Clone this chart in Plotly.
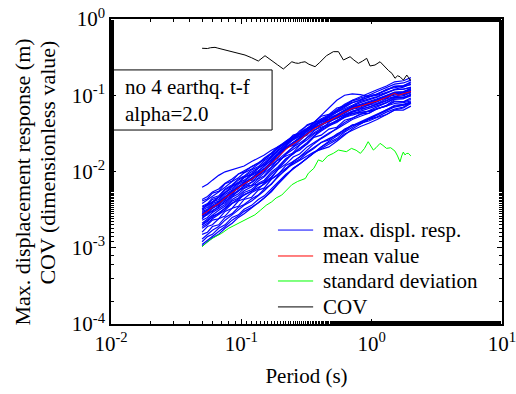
import plotly.graph_objects as go

# Period grid (s) for the individual response spectra
periods = [0.05, 0.055, 0.06, 0.067, 0.075, 0.085, 0.095, 0.105, 0.12, 0.135,
           0.15, 0.17, 0.19, 0.22, 0.25, 0.28, 0.32, 0.36, 0.41, 0.47,
           0.54, 0.62, 0.71, 0.82, 0.95, 1.1, 1.3, 1.5, 1.75, 2.0]

# Maximum displacement responses of the individual records, in mm
resp_mm = [
    [6.2, 6.8, 7.7, 8.9, 9.9, 10.5, 11.2, 11.8, 13.5, 14.9, 16.5, 19.0, 21, 24, 28, 31, 36, 40, 47, 52, 60, 66, 74, 83, 90, 96, 108, 120, 128, 140],
    [1.1, 1.25, 1.4, 1.6, 1.9, 2.3, 2.6, 3.0, 3.4, 3.9, 4.5, 5.4, 6.8, 8.9, 11, 12.5, 15, 18, 21, 24, 27, 33, 38, 44, 49, 55, 62, 70, 74, 80],
    [2.8, 3.1, 3.3, 4.0, 4.4, 5.6, 6.0, 7.3, 7.7, 9.6, 10.2, 13.4, 15.0, 20.5, 22, 27, 30, 38, 40, 48, 50, 63, 65, 75, 74, 88, 90, 108, 100, 116],
    [3.5, 3.8, 4.5, 4.8, 5.9, 6.7, 8.0, 8.7, 10.5, 11.6, 13.8, 16.0, 20.5, 24, 30, 32, 41, 44, 53, 56, 68, 72, 86, 88, 100, 102, 120, 125, 132, 138],
    [2.0, 2.3, 2.5, 2.9, 3.3, 4.1, 4.5, 5.3, 5.8, 7.0, 7.7, 9.8, 11.4, 14.8, 17, 20, 23, 28, 30, 36, 38, 47, 50, 57, 58, 67, 72, 84, 82, 92],
    [1.5, 1.6, 1.9, 2.0, 2.5, 2.8, 3.4, 3.7, 4.4, 4.9, 5.9, 6.8, 8.6, 10.5, 13, 14.5, 17.5, 20, 24, 26, 31, 35, 41, 42, 48, 52, 60, 66, 70, 80],
    [4.1, 4.4, 5.2, 5.5, 6.9, 7.5, 9.3, 9.8, 11.6, 12.8, 15, 17.5, 21, 25, 29, 31, 37, 40, 45, 48, 54, 58, 66, 68, 75, 78, 90, 96, 104, 108],
    [2.4, 2.8, 3.0, 3.5, 3.9, 4.9, 5.5, 6.5, 7.3, 8.8, 10.0, 12.6, 15.5, 20, 24, 28, 34, 40, 47, 54, 62, 74, 84, 92, 100, 112, 125, 140, 145, 158],
    [3.1, 3.4, 4.0, 4.3, 5.3, 6.0, 7.1, 7.7, 9.1, 10.2, 11.8, 14.2, 17, 21, 24, 27, 31, 35, 38, 42, 45, 51, 55, 59, 61, 67, 73, 82, 82, 88],
    [1.2, 1.4, 1.5, 1.8, 2.0, 2.5, 2.7, 3.2, 3.6, 4.3, 4.8, 6.0, 7.2, 9.2, 10.8, 12.5, 15, 17.5, 20, 23, 26, 31, 35, 39, 43, 48, 56, 64, 68, 78],
    [3.2, 3.7, 3.9, 4.6, 5.2, 6.4, 7.0, 8.4, 9.1, 11.0, 12.3, 15.0, 18.5, 22, 27, 30, 36, 44, 54, 68, 86, 100, 104, 102, 96, 100, 108, 118, 120, 126],
    [1.8, 2.0, 2.3, 2.4, 3.0, 3.3, 4.1, 4.4, 5.3, 5.9, 7.0, 8.2, 10.5, 12.5, 15.5, 17, 21, 24, 28, 32, 36, 42, 48, 53, 58, 66, 74, 88, 90, 104],
    [2.6, 3.0, 3.5, 3.7, 4.6, 5.1, 6.3, 6.6, 8.2, 8.8, 10.8, 12.2, 14, 16, 17.5, 19, 23, 29, 36, 44, 52, 58, 68, 70, 80, 82, 96, 100, 108, 110],
    [2.3, 2.5, 2.9, 3.3, 3.7, 4.6, 5.1, 6.0, 6.6, 8.0, 8.8, 11.2, 13, 16.8, 19.5, 22.5, 26, 31, 35, 40, 44, 52, 57, 62, 66, 73, 80, 90, 90, 98],
    [3.0, 3.2, 3.8, 4.1, 5.0, 5.7, 6.8, 7.4, 8.9, 9.9, 11.9, 14.0, 17.5, 21.5, 26, 29, 35, 40, 47, 52, 60, 70, 80, 86, 94, 104, 118, 132, 134, 146],
    [1.6, 1.9, 2.0, 2.4, 2.6, 3.3, 3.5, 4.3, 4.6, 5.7, 6.1, 7.9, 9.0, 12, 13.5, 15.5, 18, 21, 24, 27, 30, 36, 40, 43, 46, 51, 56, 64, 64, 72],
    [3.8, 4.3, 4.7, 5.4, 6.2, 7.4, 8.3, 9.6, 10.8, 12.6, 14.2, 17.0, 20, 24, 28, 31, 36, 40, 44, 48, 54, 62, 70, 74, 80, 88, 98, 108, 110, 120],
    [2.6, 2.8, 3.3, 3.6, 4.3, 5.0, 5.7, 6.4, 6.6, 6.8, 7.2, 8.5, 10.5, 14, 18, 22, 28, 34, 40, 46, 51, 60, 66, 74, 76, 86, 92, 104, 102, 114],
    [1.3, 1.5, 1.7, 1.9, 2.3, 2.7, 3.1, 3.6, 4.1, 4.8, 5.6, 6.9, 8.4, 11, 13.5, 15.5, 19, 23, 27, 31, 37, 44, 50, 56, 62, 70, 80, 92, 94, 102],
    [3.4, 3.7, 4.3, 4.6, 5.7, 6.5, 7.7, 8.5, 9.9, 11.2, 13, 15.5, 19, 23, 27, 29, 34, 38, 42, 45, 50, 56, 62, 66, 70, 76, 84, 94, 94, 100],
    [2.1, 2.4, 2.7, 3.1, 3.5, 4.3, 4.8, 5.6, 6.3, 7.5, 8.5, 10.5, 12.8, 17, 21, 25, 31, 38, 46, 54, 64, 76, 86, 96, 106, 118, 132, 150, 155, 170],
    [2.9, 3.1, 3.6, 4.0, 4.7, 5.6, 6.4, 7.2, 8.3, 9.7, 11, 13.5, 16.5, 20.5, 24, 27, 32, 37, 41, 45, 49, 55, 58, 60, 62, 66, 72, 78, 80, 84],
    [1.9, 2.1, 2.4, 2.7, 3.1, 3.8, 4.2, 5.0, 5.5, 6.7, 7.4, 9.2, 11, 14.5, 17, 20, 24, 29, 34, 39, 46, 54, 61, 67, 74, 82, 94, 106, 110, 122],
    [4.3, 4.7, 5.4, 5.9, 7.0, 8.0, 9.3, 10.2, 11.5, 13, 14.5, 17, 20, 25, 29, 32, 37, 42, 46, 51, 56, 64, 71, 76, 82, 90, 100, 110, 112, 122],
    [1.05, 1.2, 1.35, 1.5, 1.8, 2.1, 2.5, 2.8, 3.3, 3.9, 4.5, 5.6, 6.9, 9.0, 11, 12.5, 15, 18, 21, 25, 29, 34, 40, 45, 50, 56, 64, 72, 74, 80],
    [2.7, 2.9, 3.5, 3.7, 4.6, 5.2, 6.3, 6.8, 8.1, 9.0, 10.8, 13.0, 16.5, 22, 28, 34, 40, 44, 46, 49, 54, 62, 68, 74, 80, 86, 98, 106, 108, 116],
    [2.5, 2.7, 3.1, 3.4, 4.1, 4.7, 5.6, 6.1, 7.2, 8.2, 9.6, 11.4, 14.2, 17.5, 21, 23.5, 28, 32, 37, 41, 47, 53, 60, 64, 70, 76, 86, 96, 98, 108],
    [3.2, 3.6, 4.0, 4.6, 5.3, 6.4, 7.2, 8.3, 9.4, 11.1, 12.4, 15.4, 18.4, 23.5, 27, 31, 37, 43, 49, 55, 62, 72, 80, 86, 94, 104, 116, 130, 132, 150],
    [2.0, 2.2, 2.6, 2.8, 3.3, 3.9, 4.4, 4.9, 5.5, 6.2, 6.8, 8.0, 9.2, 11, 12.5, 14, 16, 18, 19.5, 21, 25, 30, 36, 42, 48, 56, 64, 74, 76, 82],
    [2.7, 3.1, 3.3, 3.9, 4.4, 5.4, 6.0, 7.1, 7.8, 9.5, 10.4, 13.2, 15.4, 20, 23, 27, 31, 37, 42, 48, 55, 64, 72, 80, 86, 94, 106, 118, 120, 128],
]

# Mean value (m)
mean_T = [0.05, 0.055, 0.06, 0.067, 0.075, 0.085, 0.095, 0.105, 0.12, 0.135,
          0.15, 0.17, 0.19, 0.22, 0.25, 0.28, 0.32, 0.36, 0.41, 0.47,
          0.54, 0.62, 0.71, 0.82, 0.95, 1.1, 1.3, 1.5, 1.6, 1.75, 1.9, 2.0]
mean_val = [0.0027, 0.0030, 0.0034, 0.0038, 0.0045, 0.0053, 0.0061, 0.0069, 0.0079, 0.0092,
            0.0105, 0.0128, 0.0155, 0.0195, 0.023, 0.026, 0.031, 0.036, 0.041, 0.046,
            0.052, 0.060, 0.067, 0.072, 0.077, 0.084, 0.094, 0.106, 0.100, 0.104, 0.109, 0.112]

# Standard deviation (m)
std_T = [0.05, 0.055, 0.06, 0.0707, 0.08, 0.095, 0.11, 0.127, 0.14, 0.155,
         0.171, 0.185, 0.204, 0.22, 0.244, 0.27, 0.31, 0.327, 0.36, 0.39,
         0.42, 0.46, 0.508, 0.556, 0.60, 0.64, 0.70, 0.76, 0.82, 0.88,
         0.94, 0.98, 1.03, 1.08, 1.16, 1.22, 1.3, 1.4, 1.51, 1.58,
         1.65, 1.70, 1.75, 1.80, 1.85, 1.91, 1.97, 2.0]
std_val = [0.00103, 0.0012, 0.00133, 0.00155, 0.0018, 0.0021, 0.0024, 0.0027, 0.0031, 0.0036,
           0.0040, 0.0045, 0.0049, 0.0056, 0.0067, 0.0074, 0.0081, 0.0095, 0.011, 0.0142,
           0.0135, 0.016, 0.0173, 0.0191, 0.0185, 0.0182, 0.0201, 0.019, 0.0173, 0.020,
           0.0246, 0.022, 0.0191, 0.0205, 0.0234, 0.022, 0.0201, 0.0205, 0.0185, 0.016,
           0.0134, 0.016, 0.018, 0.0165, 0.0172, 0.0173, 0.0165, 0.016]

# Coefficient of variation (dimensionless)
cov_T = [0.05, 0.055, 0.058, 0.0628, 0.066, 0.07, 0.0794, 0.09, 0.1067, 0.12,
         0.135, 0.152, 0.17, 0.19, 0.21, 0.23, 0.244, 0.26, 0.274, 0.29,
         0.308, 0.33, 0.368, 0.40, 0.45, 0.508, 0.556, 0.607, 0.64, 0.683,
         0.73, 0.791, 0.85, 0.916, 0.972, 1.06, 1.16, 1.22, 1.27, 1.35,
         1.43, 1.51, 1.58, 1.65, 1.75, 1.86, 1.92, 1.97, 2.0]
cov_val = [0.413, 0.41, 0.42, 0.425, 0.415, 0.405, 0.384, 0.36, 0.337, 0.31,
           0.281, 0.33, 0.29, 0.25, 0.221, 0.25, 0.275, 0.265, 0.262, 0.27,
           0.275, 0.255, 0.237, 0.27, 0.33, 0.373, 0.373, 0.29, 0.30, 0.32,
           0.29, 0.262, 0.28, 0.305, 0.242, 0.249, 0.275, 0.25, 0.237, 0.21,
           0.194, 0.167, 0.18, 0.175, 0.158, 0.184, 0.17, 0.158, 0.16]

x_ticks = [0.01, 0.1, 1, 10]
x_labels = ["10<sup>-2</sup>", "10<sup>-1</sup>", "10<sup>0</sup>", "10<sup>1</sup>"]
y_ticks = [1e-4, 1e-3, 1e-2, 1e-1, 1]
y_labels = ["10<sup>-4</sup>", "10<sup>-3</sup>", "10<sup>-2</sup>", "10<sup>-1</sup>", "10<sup>0</sup>"]

# Legend entries: label and line colour
legend_names = ["max. displ. resp.", "mean value", "standard deviation", "COV"]
legend_colors = ["rgb(0,0,255)", "rgb(255,0,0)", "rgb(0,255,0)", "black"]

# Two-line y-axis title
y_title_lines = ["Max. displacement response (m)", "COV (dimensionless value)"]

FONT = "Times New Roman, Liberation Serif, serif"

fig = go.Figure()

for row in resp_mm:
    fig.add_trace(go.Scatter(
        x=periods, y=[v / 1000 for v in row], mode="lines",
        line=dict(color=legend_colors[0], width=1.2), name=legend_names[0], showlegend=False,
    ))

fig.add_trace(go.Scatter(x=mean_T, y=mean_val, mode="lines", showlegend=False,
                         line=dict(color=legend_colors[1], width=1), name=legend_names[1]))
fig.add_trace(go.Scatter(x=std_T, y=std_val, mode="lines", showlegend=False,
                         line=dict(color=legend_colors[2], width=1), name=legend_names[2]))
fig.add_trace(go.Scatter(x=cov_T, y=cov_val, mode="lines", showlegend=False,
                         line=dict(color=legend_colors[3], width=1), name=legend_names[3]))

axis_common = dict(
    type="log", showline=True, linecolor="black", linewidth=1.5, mirror="allticks",
    ticks="inside", ticklen=5, tickcolor="black", showgrid=False, zeroline=False,
    minor=dict(ticks="inside", ticklen=3, tickcolor="black", showgrid=False),
    tickfont=dict(family=FONT, size=21, color="black"), automargin=False,
    ticklabeloverflow="allow",
)

fig.update_xaxes(range=[-2, 1], tickvals=x_ticks, ticktext=x_labels,
                 title=dict(text="Period (s)", font=dict(family=FONT, size=21, color="black"), standoff=13),
                 **axis_common)
fig.update_yaxes(range=[-4, 0], tickvals=y_ticks, ticktext=y_labels, **axis_common)

# Y-axis title, one rotated line each
for text, xx, yy in zip(y_title_lines, [-0.226, -0.162], [0.466, 0.528]):
    fig.add_annotation(xref="paper", yref="paper", x=xx, y=yy, xanchor="center", yanchor="middle",
                       text=text, textangle=-90, showarrow=False,
                       font=dict(family=FONT, size=22, color="black"))

# Annotation box with record info
fig.add_shape(type="rect", xref="paper", yref="paper", x0=0, x1=0.412, y0=0.636, y1=0.833,
              line=dict(color="black", width=1), fillcolor="rgba(0,0,0,0)")
fig.add_annotation(xref="paper", yref="paper", x=0.03, y=0.734, xanchor="left", yanchor="middle",
                   text="no 4 earthq. t-f<br>alpha=2.0", showarrow=False, align="left",
                   font=dict(family=FONT, size=21, color="black"))

# Legend keys drawn inside the axes, lower right
leg_rows = [0.308, 0.223, 0.141, 0.056]
for name, color, yy in zip(legend_names, legend_colors, leg_rows):
    fig.add_shape(type="line", xref="paper", yref="paper", x0=0.427, x1=0.517, y0=yy, y1=yy,
                  line=dict(color=color, width=1))
    fig.add_annotation(xref="paper", yref="paper", x=0.538, y=yy, xanchor="left", yanchor="middle",
                       text=name, showarrow=False, font=dict(family=FONT, size=21, color="black"))

fig.update_layout(
    width=516, height=394,
    margin=dict(l=111, r=14, t=19, b=70),
    paper_bgcolor="white", plot_bgcolor="white",
    font=dict(family=FONT, color="black"),
    showlegend=False,
)

fig.write_html("out.html")
